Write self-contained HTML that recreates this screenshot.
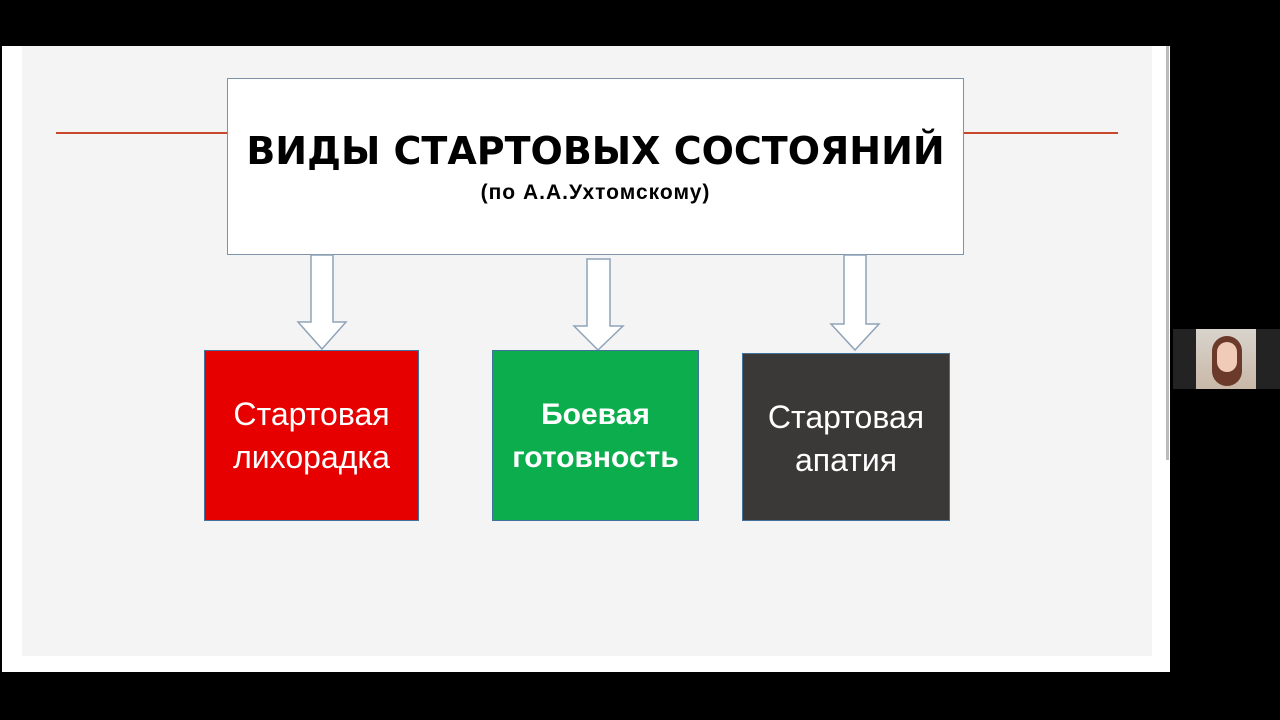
<!DOCTYPE html>
<html><head><meta charset="utf-8"><style>
body{margin:0;width:1280px;height:720px;background:#000;position:relative;overflow:hidden;font-family:"Liberation Sans","DejaVu Sans",sans-serif}
.a{position:absolute}
.box{position:absolute;color:#fff;display:flex;align-items:center;justify-content:center;text-align:center;font-size:32px;line-height:43px;border:1px solid #41719c;box-sizing:border-box}
</style></head><body>
<div class="a" style="left:2px;top:46px;width:1168px;height:626px;background:#fff"></div>
<div class="a" style="left:22px;top:46px;width:1130px;height:610px;background:#f4f4f4"></div>
<div class="a" style="left:1166px;top:46px;width:3px;height:414px;background:#bbb"></div>
<div class="a" style="left:56px;top:132px;width:1062px;height:2px;background:#c8472a"></div>
<div class="a" style="left:227px;top:78px;width:737px;height:177px;background:#fff;border:1px solid #7f93a8;box-sizing:border-box;text-align:center">
<div style="font-weight:bold;margin-top:50px;font-family:'DejaVu Sans',sans-serif;font-size:38px;letter-spacing:0px">ВИДЫ СТАРТОВЫХ СОСТОЯНИЙ</div>
<div style="font-weight:bold;font-size:21px;margin-top:8px;letter-spacing:1px">(по А.А.Ухтомскому)</div>
</div>
<svg class="a" style="left:0;top:0" width="1280" height="720">
<g fill="#fff" stroke="#8fa3b8" stroke-width="1.5">
<path d="M311 255 H333 V322 H346 L322 349 L298 322 H311 Z"/>
<path d="M587 259 H610 V326 H623 L598 350 L574 326 H587 Z"/>
<path d="M844 255 H866 V324 H879 L855 350 L831 324 H844 Z"/>
</g></svg>
<div class="box" style="left:204px;top:350px;width:215px;height:171px;background:#e60000">Стартовая<br>лихорадка</div>
<div class="box" style="left:492px;top:350px;width:207px;height:171px;background:#0cad4c;font-weight:bold;font-size:30px">Боевая<br>готовность</div>
<div class="box" style="left:742px;top:353px;width:208px;height:168px;background:#3b3838;padding-top:4px">Стартовая<br>апатия</div>
<div class="a" style="left:1173px;top:329px;width:107px;height:60px;background:#232323"></div>
<div class="a" style="left:1196px;top:329px;width:60px;height:60px;background:linear-gradient(#d8d4cc,#c9b8a8)"></div>
<div class="a" style="left:1212px;top:336px;width:30px;height:50px;border-radius:15px;background:#6b3a2a"></div>
<div class="a" style="left:1217px;top:342px;width:20px;height:30px;border-radius:10px;background:#f0cbb8"></div>
</body></html>
